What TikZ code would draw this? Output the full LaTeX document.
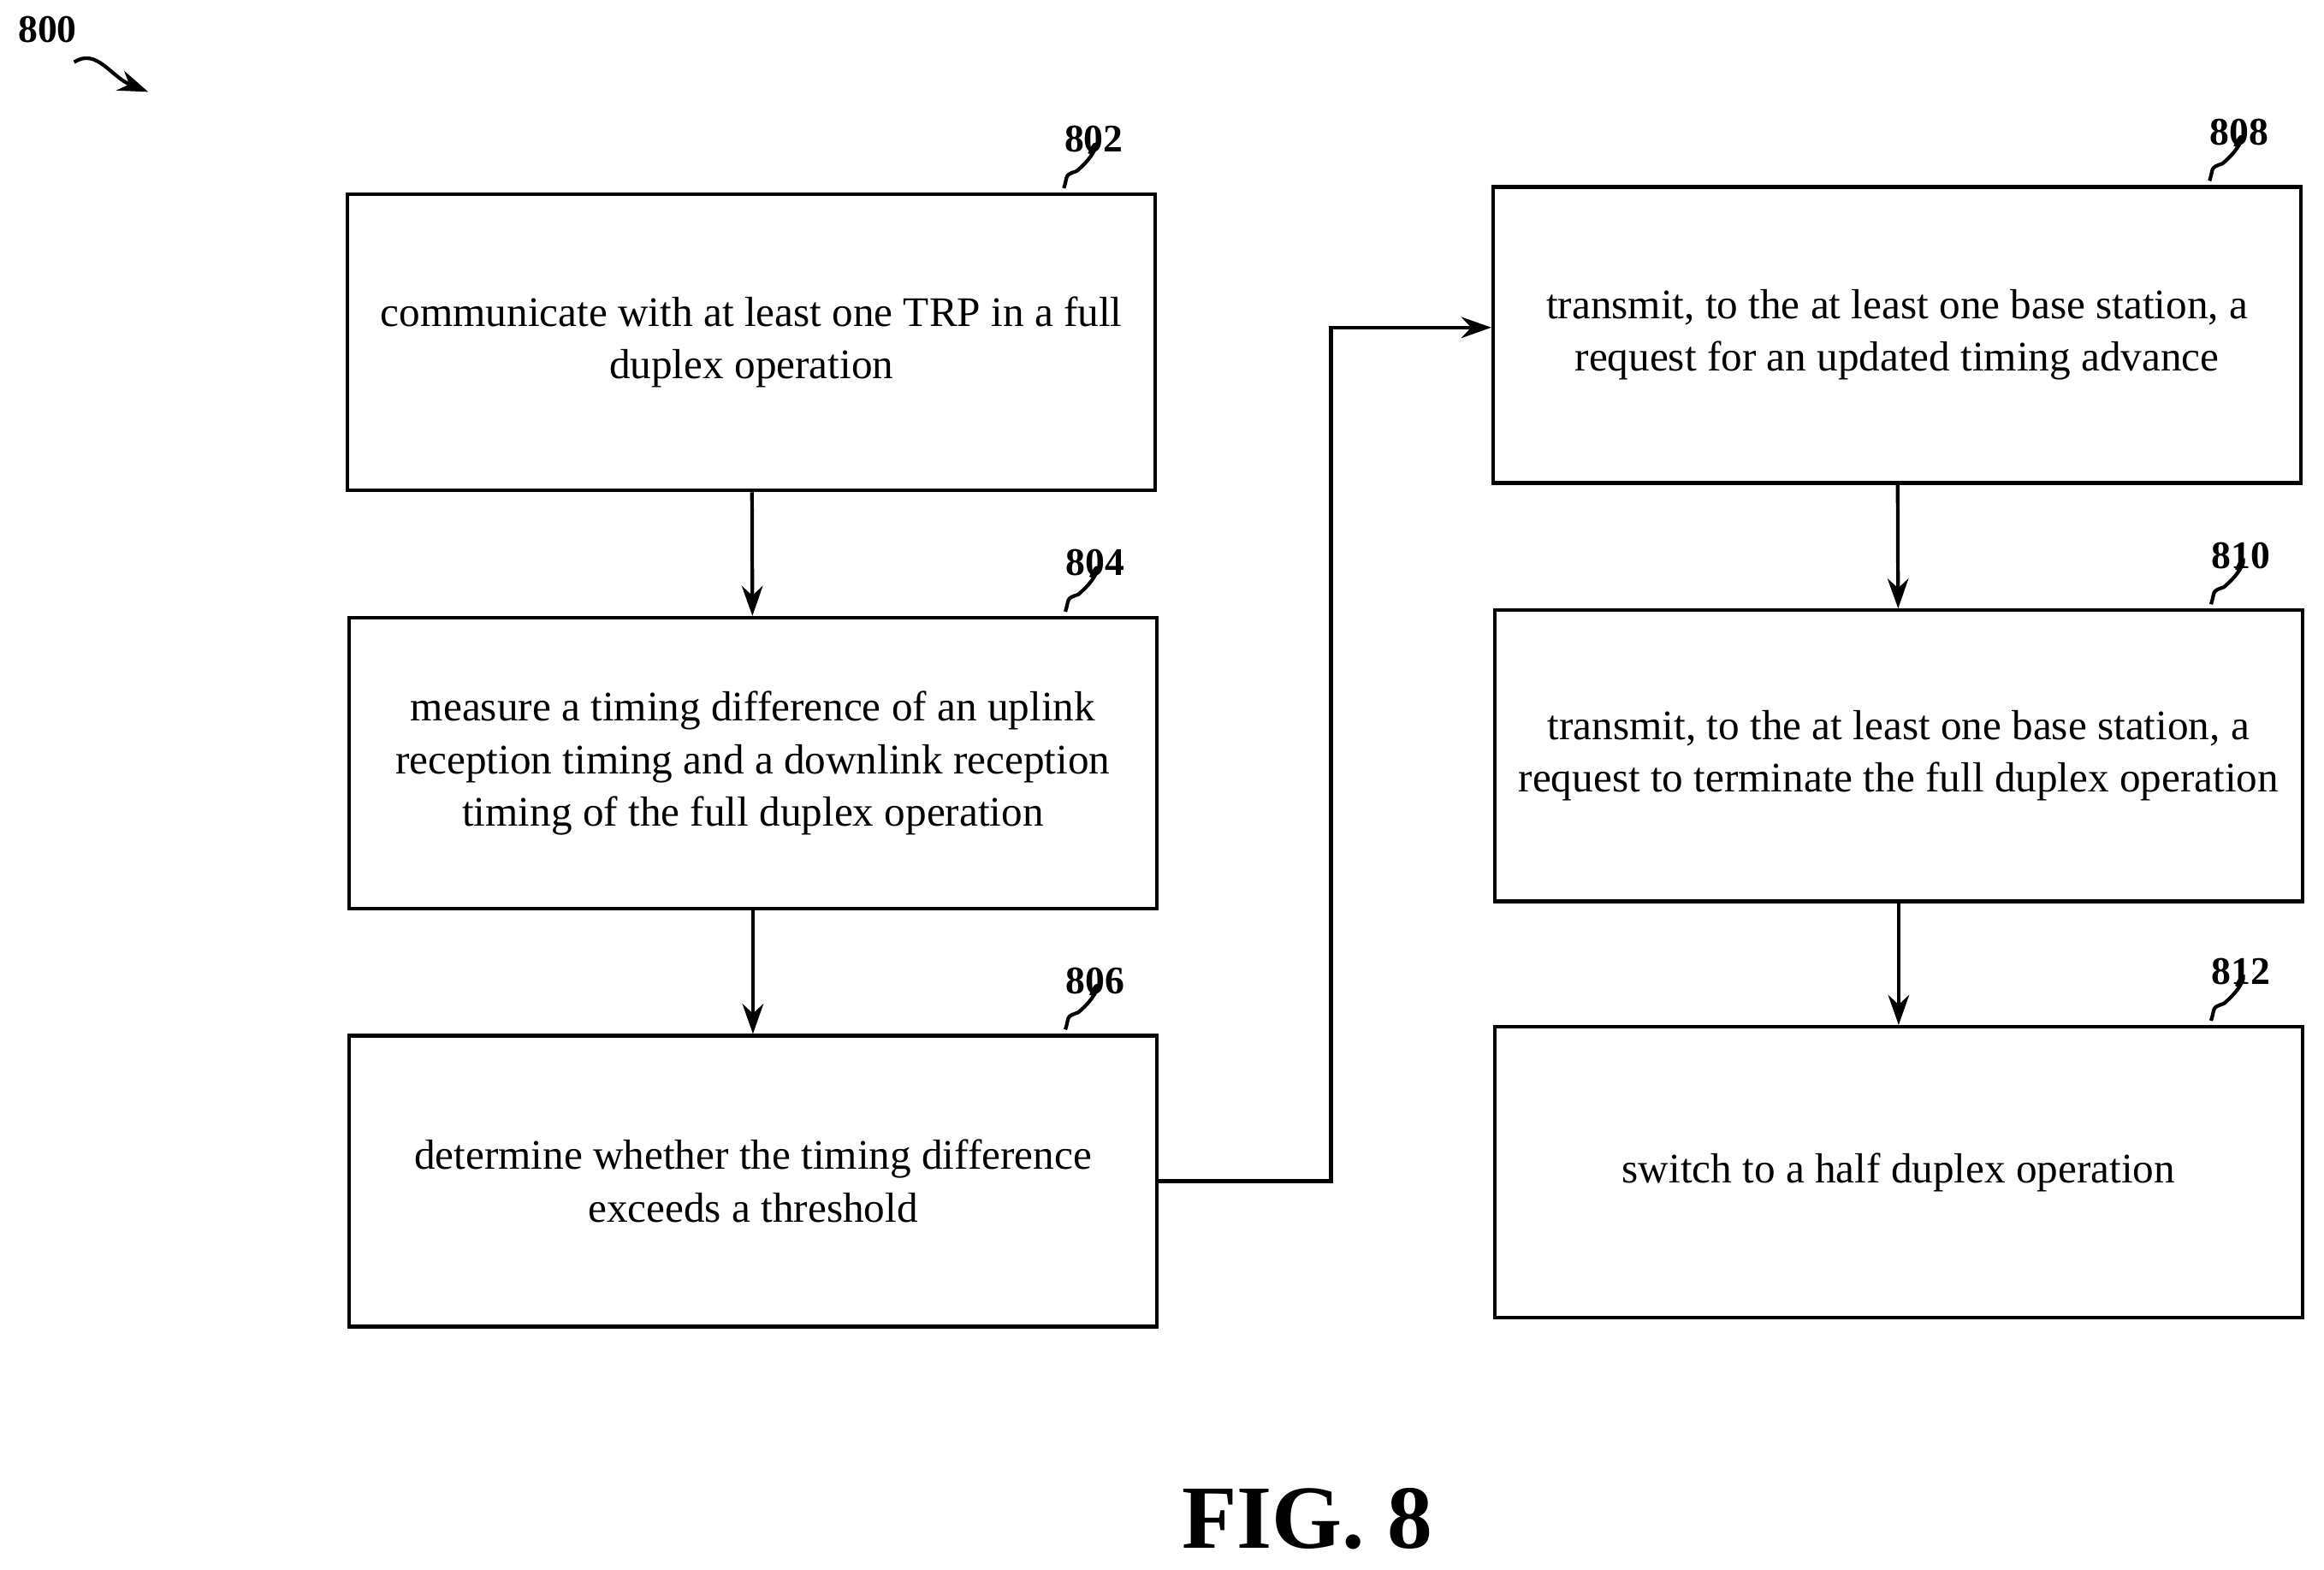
\documentclass[tikz,border=0pt]{standalone}
\usepackage{fontspec}
\setmainfont{Liberation Serif}
\usetikzlibrary{arrows.meta}
\tikzset{
	stepbox/.style={draw,line width=1.2pt,minimum width=9.44cm,minimum height=3.4cm,align=center,font=\fontsize{14}{17.5}\selectfont},
	flow/.style={-{Stealth[length=10pt,width=7pt]},line width=1.2pt},
	refnum/.style={font=\bfseries\fontsize{13}{15}\selectfont}
}
\begin{document}
\begin{tikzpicture}[x=0.01732cm,y=-0.01732cm]
	\useasboundingbox (0,0) rectangle (1568,1059);
	\node[refnum] (n800) at (32,20) {800};
	\draw[flow] (50,42) .. controls (65,32) and (75,52) .. (100,62);
	\node[stepbox,minimum height=3.46cm] (s802) at (507,231) {communicate with at least one TRP in a full\\duplex operation};
	\node[stepbox] (s804) at (508,515) {measure a timing difference of an uplink\\reception timing and a downlink reception\\timing of the full duplex operation};
	\node[stepbox] (s806) at (508,797) {determine whether the timing difference\\exceeds a threshold};
	\node[stepbox,minimum height=3.46cm] (s808) at (1280,226) {transmit, to the at least one base station, a\\request for an updated timing advance};
	\node[stepbox] (s810) at (1281,510) {transmit, to the at least one base station, a\\request to terminate the full duplex operation};
	\node[stepbox] (s812) at (1281,791) {switch to a half duplex operation};
	% reference numbers
	\foreach \b/\t in {s802/802,s804/804,s806/806,s808/808,s810/810,s812/812}{
		\node[refnum] (l\t) at ([xshift=4.0cm,yshift=0.62cm]\b.north) {\t};
		\draw[line width=1.2pt] ([xshift=3.65cm,yshift=0.05cm]\b.north) .. controls +(0.05cm,0.15cm) and +(-0.15cm,-0.05cm) .. +(0.15cm,0.2cm) .. controls +(0.3cm,0.25cm) and +(0.1cm,0.25cm) .. +(0.3cm,0.4cm);
	}
	\coordinate (bend) at (898,221);
	\draw[flow] (s802) -- (s804);
	\draw[flow] (s804) -- (s806);
	\draw[flow] (s806.east) -| (bend) -- (s808.west |- bend);
	\draw[flow] (s808) -- (s810);
	\draw[flow] (s810) -- (s812);
	\node[font=\bfseries\fontsize{30}{34}\selectfont] (fig) at (882,1025) {FIG. 8};
\end{tikzpicture}
\end{document}
